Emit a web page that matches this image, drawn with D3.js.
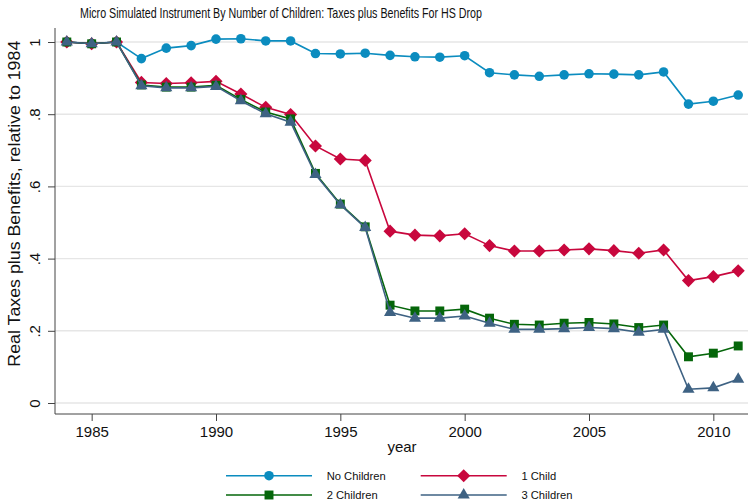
<!DOCTYPE html>
<html>
<head>
<meta charset="utf-8">
<script src="https://cdn.jsdelivr.net/npm/d3@7"></script>
<style>
  html, body { margin: 0; padding: 0; background: #fff; }
  svg { display: block; font-family: "Liberation Sans", Arial, Helvetica, sans-serif; }
</style>
</head>
<body>
<svg id="chart" width="748" height="501"></svg>
<script>
// Years covered by the simulation
const years = [1984, 1985, 1986, 1987, 1988, 1989, 1990, 1991, 1992, 1993, 1994, 1995, 1996, 1997,
               1998, 1999, 2000, 2001, 2002, 2003, 2004, 2005, 2006, 2007, 2008, 2009, 2010, 2011];

// Real taxes plus benefits relative to 1984, by number of children
const noChildren = [1.000, 0.996, 1.000, 0.954, 0.983, 0.990, 1.008, 1.009, 1.003, 1.003, 0.968, 0.967, 0.969, 0.963,
                    0.959, 0.958, 0.962, 0.915, 0.909, 0.905, 0.909, 0.912, 0.911, 0.909, 0.917, 0.828, 0.836, 0.853];
const oneChild   = [1.000, 0.995, 1.000, 0.888, 0.885, 0.887, 0.891, 0.856, 0.819, 0.799, 0.712, 0.676, 0.672, 0.476,
                    0.465, 0.463, 0.469, 0.436, 0.421, 0.421, 0.424, 0.427, 0.422, 0.415, 0.424, 0.339, 0.350, 0.366];
const twoChildren = [1.000, 0.995, 1.000, 0.881, 0.875, 0.875, 0.880, 0.841, 0.806, 0.787, 0.636, 0.551, 0.488, 0.271,
                     0.255, 0.255, 0.260, 0.235, 0.218, 0.216, 0.221, 0.223, 0.219, 0.209, 0.216, 0.128, 0.138, 0.158];
const threeChildren = [1.000, 0.995, 1.000, 0.879, 0.873, 0.873, 0.877, 0.837, 0.801, 0.778, 0.633, 0.549, 0.486, 0.251,
                       0.235, 0.235, 0.241, 0.221, 0.204, 0.204, 0.206, 0.209, 0.206, 0.196, 0.204, 0.038, 0.042, 0.066];

const seriesNames = ["No Children", "1 Child", "2 Children", "3 Children"];
const xTicks = [1985, 1990, 1995, 2000, 2005, 2010];
const yTicks = [0, 0.2, 0.4, 0.6, 0.8, 1];
const yTickLabels = ["0", ".2", ".4", ".6", ".8", "1"];

const titleText = "Micro Simulated Instrument By Number of Children: Taxes plus Benefits For HS Drop";
const yTitle = "Real Taxes plus Benefits, relative to 1984";
const xTitle = "year";

const series = [
  { name: seriesNames[0], values: noChildren,   color: "#0b8cbf", shape: "circle" },
  { name: seriesNames[1], values: oneChild,     color: "#c8073d", shape: "diamond" },
  { name: seriesNames[2], values: twoChildren,  color: "#05660a", shape: "square" },
  { name: seriesNames[3], values: threeChildren, color: "#3e6283", shape: "triangle" }
];

const svg = d3.select("#chart");

const plotLeft = 55, plotRight = 748, plotTop = 28, plotBottom = 414;

const x = d3.scaleLinear().domain([1984, 2011]).range([66.8, 738.2]);
const y = d3.scaleLinear().domain([0, 1]).range([403, 42]);

// Marker path generators
function markerPath(shape) {
  switch (shape) {
    case "circle":   return d3.symbol().type(d3.symbolCircle).size(72)();
    case "diamond":  return d3.symbol().type(d3.symbolSquare).size(86)();
    case "square":   return d3.symbol().type(d3.symbolSquare).size(80)();
    case "triangle": return d3.symbol().type(d3.symbolTriangle).size(64)();
  }
}
function markerTransform(shape, cx, cy) {
  return shape === "diamond" ? `translate(${cx},${cy}) rotate(45)` : `translate(${cx},${cy})`;
}

// Horizontal grid lines
svg.append("g")
  .selectAll("line")
  .data(yTicks)
  .join("line")
  .attr("x1", plotLeft).attr("x2", plotRight)
  .attr("y1", d => y(d)).attr("y2", d => y(d))
  .attr("stroke", "#e6e6e6")
  .attr("stroke-width", 1.4);

// Y axis
const yAxis = svg.append("g")
  .attr("transform", `translate(${plotLeft},0)`)
  .call(d3.axisLeft(y).tickValues(yTicks).tickSize(7).tickPadding(0)
        .tickFormat((d, i) => yTickLabels[i]));
yAxis.select(".domain").attr("d", `M0,${plotTop}V${plotBottom}`).attr("stroke", "#444");
yAxis.selectAll(".tick line").attr("stroke", "#444");
yAxis.selectAll(".tick text")
  .attr("x", null).attr("dy", null)
  .attr("transform", "translate(-15,0) rotate(-90)")
  .attr("text-anchor", "middle")
  .attr("fill", "#111")
  .style("font-size", "15px");

// X axis
const xAxis = svg.append("g")
  .attr("transform", `translate(0,${plotBottom})`)
  .call(d3.axisBottom(x).tickValues(xTicks).tickSize(7).tickPadding(5).tickFormat(d3.format("d")));
xAxis.select(".domain").attr("d", `M${plotLeft},0H${plotRight}`).attr("stroke", "#444");
xAxis.selectAll(".tick line").attr("stroke", "#444");
xAxis.selectAll(".tick text").attr("fill", "#111").style("font-size", "15px");

// Titles
svg.append("text")
  .attr("x", 80).attr("y", 17.5)
  .attr("textLength", 402).attr("lengthAdjust", "spacingAndGlyphs")
  .style("font-size", "15px").attr("fill", "#111")
  .text(titleText);

svg.append("text")
  .attr("transform", "translate(20,203.7) rotate(-90)")
  .attr("text-anchor", "middle")
  .attr("textLength", 326).attr("lengthAdjust", "spacingAndGlyphs")
  .style("font-size", "16.5px").attr("fill", "#111")
  .text(yTitle);

svg.append("text")
  .attr("x", 402).attr("y", 452)
  .attr("text-anchor", "middle")
  .style("font-size", "15px").attr("fill", "#111")
  .text(xTitle);

// Series lines and markers
const line = d3.line().x((d, i) => x(years[i])).y(d => y(d));

series.forEach(s => {
  const g = svg.append("g");
  g.append("path")
    .attr("d", line(s.values))
    .attr("fill", "none")
    .attr("stroke", s.color)
    .attr("stroke-width", 1.6);
  g.selectAll("path.mk")
    .data(s.values)
    .join("path")
    .attr("class", "mk")
    .attr("d", markerPath(s.shape))
    .attr("transform", (d, i) => markerTransform(s.shape, x(years[i]), y(d)))
    .attr("fill", s.color);
});

// Legend
const legendPos = [
  { lx: 226, ly: 475.7 }, { lx: 420.7, ly: 475.7 },
  { lx: 226, ly: 495 },   { lx: 420.7, ly: 495 }
];
series.forEach((s, i) => {
  const p = legendPos[i];
  const g = svg.append("g").attr("transform", `translate(${p.lx},${p.ly})`);
  g.append("line").attr("x1", 0).attr("x2", 86).attr("y1", 0).attr("y2", 0)
    .attr("stroke", s.color).attr("stroke-width", 1.6);
  g.append("path").attr("d", markerPath(s.shape))
    .attr("transform", markerTransform(s.shape, 43, 0))
    .attr("fill", s.color);
  g.append("text").attr("x", 100.7).attr("y", 0).attr("dy", "0.35em")
    .style("font-size", "11.2px").attr("fill", "#111")
    .text(s.name);
});
</script>
</body>
</html>
